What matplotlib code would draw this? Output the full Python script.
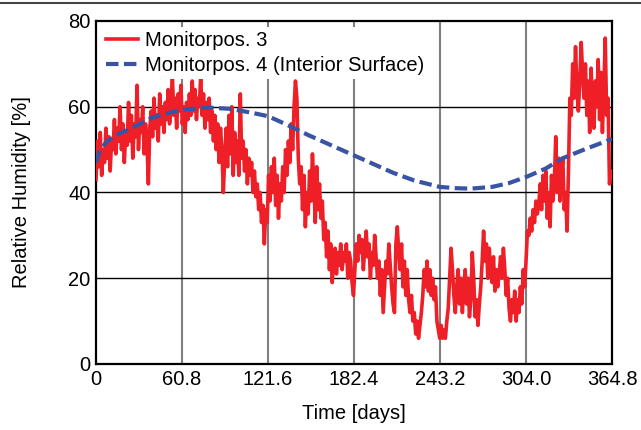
import numpy as np
import matplotlib
matplotlib.use('Agg')
import matplotlib.pyplot as plt
from matplotlib.lines import Line2D

plt.rcParams['font.family'] = ['Liberation Sans', 'DejaVu Sans']

# Monitorpos. 3 - daily values
rh3 = [43, 52, 46, 54, 44, 50, 47, 55, 48, 53,
       45, 52, 50, 57, 49, 55, 52, 60, 50, 56,
       47, 54, 51, 61, 52, 58, 48, 56, 53, 65,
       50, 57, 54, 60, 49, 56, 52, 42, 55, 59,
       53, 62, 55, 58, 52, 63, 56, 60, 54, 61,
       57, 64, 56, 60, 67, 58, 62, 55, 63, 59,
       65, 56, 60, 54, 61, 57, 63, 58, 66, 59,
       64, 57, 62, 60, 67, 58, 63, 55, 61, 57,
       62, 54, 59, 52, 58, 50, 56, 47, 55, 50,
       40, 48, 55, 46, 58, 49, 60, 44, 54, 47,
       52, 44, 63, 48, 52, 45, 50, 42, 48, 44,
       47, 40, 45, 39, 42, 36, 40, 33, 37, 28,
       36, 33, 44, 38, 46, 40, 48, 37, 44, 34,
       42, 38, 46, 40, 50, 44, 52, 47, 56, 50,
       60, 66, 62, 48, 42, 46, 36, 44, 32, 40,
       35, 45, 38, 49, 42, 33, 46, 36, 42, 34,
       38, 29, 33, 25, 31, 22, 28, 19, 24, 27,
       21, 26, 23, 28, 22, 26, 24, 28, 20, 26,
       24, 19, 16, 22, 28, 24, 30, 26, 29, 22,
       27, 31, 25, 28, 20, 26, 23, 30, 25, 20,
       24, 16, 22, 12, 18, 24, 21, 28, 23, 18,
       14, 12, 28, 32, 26, 22, 28, 18, 24, 16,
       22, 15, 12, 16, 10, 12, 7, 10, 6, 9,
       12, 16, 22, 18, 24, 17, 22, 16, 20, 15,
       18, 10, 8, 6, 9, 6, 8, 6, 10, 13,
       20, 27, 22, 16, 12, 18, 22, 14, 20, 12,
       18, 22, 14, 20, 11, 15, 26, 20, 11, 15,
       9, 14, 18, 24, 31, 24, 28, 20, 27, 22,
       19, 25, 17, 22, 18, 21, 25, 20, 27, 22,
       16, 20, 13, 10, 15, 12, 17, 10, 15, 12,
       18, 14, 22, 18, 24, 31, 30, 34, 31, 36,
       33, 38, 35, 37, 42, 36, 44, 38, 45, 34,
       40, 32, 44, 38, 42, 53, 40, 48, 38, 44,
       48, 36, 40, 31, 45, 62, 58, 70, 62, 74,
       64, 59, 66, 75, 68, 62, 70, 58, 66, 54,
       69, 60, 55, 66, 60, 71, 57, 68, 54, 64,
       76, 58, 62, 42, 45]
days3 = np.arange(len(rh3))

# Monitorpos. 4 (Interior Surface)
days4 = [0, 3, 8, 15, 25, 40, 60, 80, 95, 110, 121.6, 135, 150, 165, 180,
         195, 210, 225, 243, 255, 265, 280, 292, 304, 318, 330, 345, 364.8]
rh4 = [47, 50, 52, 53.5, 55, 57.5, 59.3, 59.8, 59.5, 58.6, 57.8, 55.8, 53.4,
       51.2, 49, 46.8, 44.6, 42.8, 41.3, 41, 40.9, 41.3, 42.2, 43.6, 45.6,
       48, 50, 52.5]

xticks = [0, 60.8, 121.6, 182.4, 243.2, 304.0, 364.8]
xticklabels = ['0', '60.8', '121.6', '182.4', '243.2', '304.0', '364.8']
yticks = [0, 20, 40, 60, 80]

fig = plt.figure(figsize=(6.41, 4.30), dpi=100)
ax = fig.add_axes([0.1498, 0.1535, 0.8050, 0.7977])

ax.plot(days3, rh3, color='#ee1f26', lw=2.6, label='Monitorpos. 3', zorder=3)
ax.plot(days4, rh4, color='#3a54a4', lw=3, ls=(0, (3, 1.3)),
        label='Monitorpos. 4 (Interior Surface)', zorder=4)

ax.set_xlim(0, 364.8)
ax.set_ylim(0, 80)
ax.set_xticks(xticks)
ax.set_xticklabels(xticklabels)
ax.set_yticks(yticks)
ax.tick_params(length=0, labelsize=14.5, pad=4)

for x in xticks[1:-1]:
    ax.axvline(x, color='#7f7f7f', lw=1.5, zorder=1)
for y in yticks[1:-1]:
    ax.axhline(y, color='black', lw=1, zorder=1)
for s in ax.spines.values():
    s.set_linewidth(1.6)

ax.set_xlabel('Time [days]', fontsize=14.5, labelpad=11)
ax.set_ylabel('Relative Humidity [%]', fontsize=14.5, labelpad=27)

leg = ax.legend(loc='upper left', fontsize=14.5, frameon=True, fancybox=False,
                framealpha=1, edgecolor='none', borderaxespad=0.3,
                handlelength=1.6, handletextpad=0.35, labelspacing=0.3,
                borderpad=0.2)
leg.set_zorder(5)

fig.add_artist(Line2D([0, 1], [0.993, 0.993], color='#444444', lw=1.5))

fig.savefig('out.png', dpi=100)
